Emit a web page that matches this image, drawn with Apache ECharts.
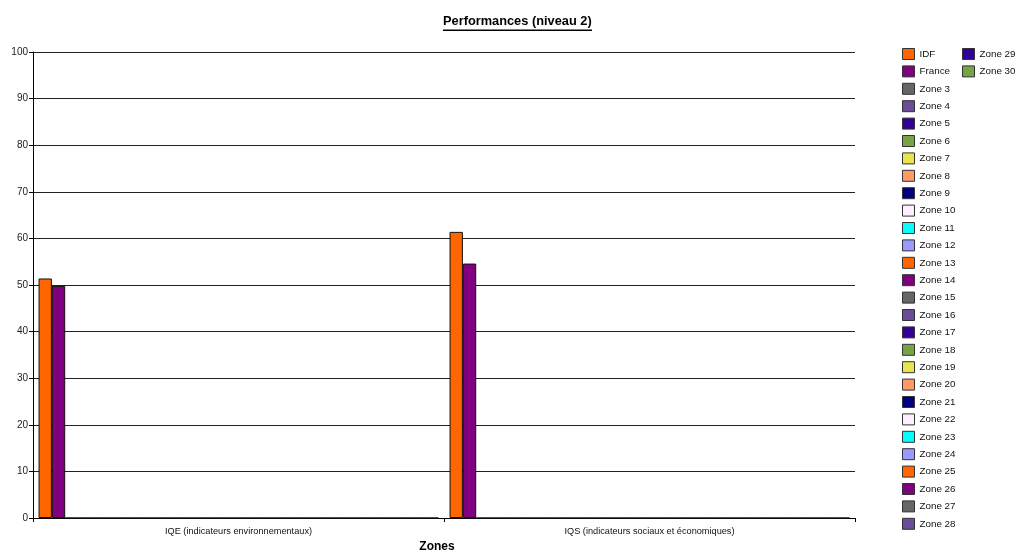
<!DOCTYPE html>
<html>
<head>
<meta charset="utf-8">
<script src="https://cdn.jsdelivr.net/npm/echarts@6/dist/echarts.min.js"></script>
<style>html,body{margin:0;padding:0;background:#fff}#c{width:1015px;height:553px}</style>
</head>
<body>
<div id="c"></div>
<script>
var categories = ['IQE (indicateurs environnementaux)', 'IQS (indicateurs sociaux et économiques)'];
var yTicks = [0, 10, 20, 30, 40, 50, 60, 70, 80, 90, 100];
var seriesNames = ['IDF', 'France', 'Zone 3', 'Zone 4', 'Zone 5', 'Zone 6', 'Zone 7', 'Zone 8', 'Zone 9', 'Zone 10',
  'Zone 11', 'Zone 12', 'Zone 13', 'Zone 14', 'Zone 15', 'Zone 16', 'Zone 17', 'Zone 18', 'Zone 19', 'Zone 20',
  'Zone 21', 'Zone 22', 'Zone 23', 'Zone 24', 'Zone 25', 'Zone 26', 'Zone 27', 'Zone 28', 'Zone 29', 'Zone 30'];
var idfValues = [51.4, 61.4];
var franceValues = [49.8, 54.6];
var zoneValues = [
  [0, 0], [0, 0], [0, 0], [0, 0], [0, 0], [0, 0], [0, 0],
  [0, 0], [0, 0], [0, 0], [0, 0], [0, 0], [0, 0], [0, 0],
  [0, 0], [0, 0], [0, 0], [0, 0], [0, 0], [0, 0], [0, 0],
  [0, 0], [0, 0], [0, 0], [0, 0], [0, 0], [0, 0], [0, 0]
];
var palette = ['#FF6600', '#800080', '#666666', '#6B4C9A', '#330099', '#77A345',
  '#E6E64C', '#FF9966', '#000080', '#FFEEFF', '#00FFFF', '#9999FF'];

var allValues = [idfValues, franceValues].concat(zoneValues);
var series = seriesNames.map(function (name, i) {
  return {
    name: name,
    type: 'bar',
    data: allValues[i],
    barGap: '0%',
    barCategoryGap: '2.7%',
    itemStyle: { color: palette[i % palette.length], borderColor: '#111', borderWidth: 1 },
    emphasis: { disabled: true },
    animation: false
  };
});

var legendText = { fontSize: 9.8, color: '#111', fontFamily: 'Liberation Sans', lineHeight: 12 };
var legendItemStyle = { borderColor: '#333', borderWidth: 1 };
var chart = echarts.init(document.getElementById('c'), null, { renderer: 'canvas' });
chart.setOption({
  animation: false,
  color: palette,
  grid: { left: 33, right: 160, top: 52, bottom: 35, containLabel: false, outerBoundsMode: 'none' },
  graphic: [
    { type: 'text', left: 443, top: 15, style: { text: 'Performances (niveau 2)', font: 'bold 12.8px "Liberation Sans"', fill: '#000' } },
    { type: 'rect', left: 443, top: 29.5, shape: { width: 149, height: 1.5 }, style: { fill: '#000' } }
  ],
  legend: [
    {
      orient: 'vertical', left: 902, top: 48, padding: 0, itemWidth: 12, itemHeight: 11, itemGap: 5.4, itemTextGap: 5,
      data: seriesNames.slice(0, 28), textStyle: legendText, itemStyle: legendItemStyle, selectedMode: false, icon: 'rect'
    },
    {
      orient: 'vertical', left: 962, top: 48, padding: 0, itemWidth: 12, itemHeight: 11, itemGap: 5.4, itemTextGap: 5,
      data: seriesNames.slice(28), textStyle: legendText, itemStyle: legendItemStyle, selectedMode: false, icon: 'rect'
    }
  ],
  xAxis: {
    type: 'category',
    data: categories,
    name: 'Zones',
    nameLocation: 'middle',
    nameGap: 23,
    nameTextStyle: { fontSize: 12, fontWeight: 'bold', color: '#000', fontFamily: 'Liberation Sans', padding: [0, 14, 0, 0] },
    axisLine: { lineStyle: { color: '#000', width: 1 } },
    axisTick: { show: true, length: 4, lineStyle: { color: '#000' } },
    axisLabel: { fontSize: 9.2, color: '#111', fontFamily: 'Liberation Sans', margin: 9 }
  },
  yAxis: {
    type: 'value',
    min: yTicks[0],
    max: yTicks[yTicks.length - 1],
    interval: yTicks[1] - yTicks[0],
    axisLine: { show: true, lineStyle: { color: '#000', width: 1 } },
    axisTick: { show: true, length: 4, lineStyle: { color: '#000' } },
    axisLabel: { fontSize: 10, color: '#222', fontFamily: 'Liberation Sans', margin: 5 },
    splitLine: { show: true, lineStyle: { color: '#222', width: 1 } }
  },
  series: series
});
</script>
</body>
</html>
